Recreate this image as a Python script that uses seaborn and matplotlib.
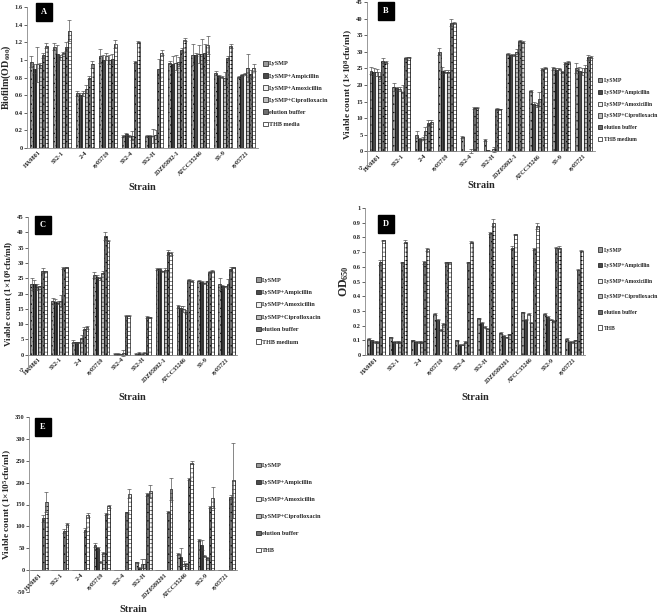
import matplotlib
matplotlib.use("Agg")
import matplotlib.pyplot as plt
from matplotlib.container import BarContainer
import seaborn as sns
import pandas as pd
import numpy as np
from matplotlib.ticker import FuncFormatter

sns.set_theme(style="white")
plt.rcParams['font.family'] = ['Liberation Serif', 'DejaVu Serif']
plt.rcParams['font.weight'] = 'bold'
plt.rcParams['hatch.linewidth'] = 0.35
plt.rcParams['mathtext.fontset'] = 'custom'
plt.rcParams['mathtext.rm'] = 'Liberation Serif:bold'
plt.rcParams['mathtext.it'] = 'Liberation Serif:bold'
plt.rcParams['mathtext.bf'] = 'Liberation Serif:bold'

# ---------------- data ----------------
strains_A = ["HA9801", "SS2-1", "2-4", "zy05719", "SS2-4", "SS2-H", "JDZ05802-1", "ATCC35246", "SS-9", "zy05721"]
strains_D = ["HA9801", "SS2-1", "2-4", "zy05719", "SS2-4", "SS2-H", "JDZ0580201", "ATCC35246", "SS2-9", "zy05721"]
treat_A = ["LySMP", "LySMP+Ampicillin", "LySMP+Amoxicillin", "LySMP+Ciprofloxacin", "elution buffer", "THB media"]
treat_B = ["LySMP", "LySMP+Ampicillin", "LySMP+Amoxicillin", "LySMP+Ciprofloxacin", "elution buffer", "THB medium"]
treat_D = ["LySMP", "LySMP+Ampicillin", "LySMP+Amoxicillin", "LySMP+Ciprofloxacin", "elution buffer", "THB"]

# rows = treatments, columns = strains
A_vals = [
    [0.98, 1.15, 0.62, 1.04, 0.14, 0.14, 0.97, 1.06, 0.85, 0.81],
    [0.90, 1.07, 0.60, 1.00, 0.16, 0.14, 0.95, 1.06, 0.82, 0.83],
    [0.95, 1.03, 0.62, 1.04, 0.14, 0.14, 0.97, 1.07, 0.81, 0.84],
    [0.94, 1.08, 0.67, 1.00, 0.14, 0.15, 0.98, 1.07, 0.79, 0.91],
    [1.05, 1.15, 0.80, 1.01, 0.98, 0.90, 1.11, 1.08, 1.02, 0.84],
    [1.16, 1.33, 0.95, 1.18, 1.20, 1.08, 1.23, 1.17, 1.16, 0.91],
]
A_err = [
    [0.06, 0.04, 0.03, 0.08, 0.01, 0.01, 0.02, 0.12, 0.02, 0.01],
    [0.05, 0.10, 0.02, 0.05, 0.01, 0.01, 0.09, 0.02, 0.01, 0.01],
    [0.20, 0.03, 0.03, 0.04, 0.01, 0.08, 0.08, 0.10, 0.01, 0.01],
    [0.03, 0.01, 0.05, 0.05, 0.05, 0.05, 0.05, 0.17, 0.07, 0.16],
    [0.03, 0.05, 0.02, 0.06, 0.01, 0.11, 0.03, 0.10, 0.02, 0.05],
    [0.03, 0.12, 0.04, 0.05, 0.01, 0.03, 0.02, 0.10, 0.02, 0.04],
]
B_vals = [
    [24.3, 19.3, 5.0, 30.0, 4.2, 3.4, 29.2, 18.3, 25.0, 25.2],
    [23.8, 19.0, 3.6, 24.3, 0.1, 0.3, 29.0, 14.3, 24.5, 24.3],
    [23.8, 18.8, 3.8, 24.0, 0.1, 0.1, 29.0, 14.0, 24.8, 24.0],
    [22.8, 18.0, 6.0, 24.0, 0.2, 0.6, 30.0, 15.8, 24.0, 25.0],
    [27.3, 28.0, 8.6, 38.8, 13.0, 12.8, 33.3, 24.8, 26.5, 28.3],
    [27.0, 28.3, 9.0, 38.6, 13.2, 12.8, 33.0, 25.0, 27.0, 28.3],
]
B_err = [
    [1.0, 1.2, 1.0, 1.0, 0.3, 0.3, 0.3, 0.3, 0.5, 1.5],
    [1.2, 0.5, 0.5, 1.0, 0.1, 0.1, 0.3, 0.5, 0.5, 1.0],
    [1.0, 0.5, 0.5, 0.5, 0.1, 0.1, 0.3, 0.5, 0.3, 1.0],
    [1.0, 2.0, 1.2, 0.5, 0.6, 0.8, 0.8, 2.0, 0.3, 1.0],
    [0.7, 0.3, 0.8, 1.0, 0.3, 0.2, 0.3, 0.3, 0.3, 0.7],
    [0.3, 0.2, 0.6, 0.3, 0.2, 0.1, 0.3, 0.3, 0.3, 0.3],
]
C_vals = [
    [23.0, 17.5, 4.2, 26.0, 0.3, 0.3, 28.0, 15.8, 24.2, 23.0],
    [23.0, 17.3, 4.0, 25.5, 0.3, 0.5, 28.0, 15.3, 23.8, 22.3],
    [22.0, 17.0, 4.0, 25.0, 0.2, 0.3, 27.2, 15.0, 23.3, 22.3],
    [22.3, 17.5, 5.3, 26.8, 0.5, 0.5, 27.8, 14.0, 24.0, 23.2],
    [27.5, 28.2, 8.5, 38.7, 12.8, 12.3, 33.5, 24.5, 27.0, 28.0],
    [27.2, 28.5, 9.0, 37.3, 12.8, 12.2, 33.2, 24.2, 27.3, 28.5],
]
C_err = [
    [2.0, 1.0, 0.5, 1.0, 0.1, 0.1, 0.2, 0.5, 0.2, 2.0],
    [1.3, 1.0, 0.3, 0.5, 0.1, 0.5, 0.2, 0.5, 0.2, 0.5],
    [1.0, 0.5, 0.3, 0.5, 0.1, 0.3, 0.3, 1.0, 0.2, 0.3],
    [0.3, 2.0, 1.2, 0.5, 1.0, 0.5, 0.5, 0.5, 0.2, 1.5],
    [0.7, 0.3, 0.5, 1.3, 0.3, 0.2, 0.8, 0.3, 0.3, 0.7],
    [0.3, 0.2, 0.5, 0.3, 0.3, 0.2, 0.5, 0.3, 0.3, 0.3],
]
D_vals = [
    [0.11, 0.12, 0.10, 0.28, 0.10, 0.25, 0.15, 0.29, 0.28, 0.11],
    [0.10, 0.09, 0.09, 0.24, 0.07, 0.22, 0.13, 0.24, 0.26, 0.09],
    [0.09, 0.09, 0.09, 0.17, 0.07, 0.19, 0.12, 0.28, 0.24, 0.09],
    [0.09, 0.09, 0.09, 0.21, 0.09, 0.18, 0.14, 0.22, 0.23, 0.10],
    [0.63, 0.63, 0.63, 0.63, 0.63, 0.83, 0.73, 0.72, 0.73, 0.58],
    [0.78, 0.77, 0.72, 0.63, 0.77, 0.90, 0.82, 0.88, 0.73, 0.71],
]
D_err = [
    [0.005, 0.005, 0.005, 0.005, 0.005, 0.005, 0.005, 0.005, 0.005, 0.005],
    [0.005, 0.005, 0.005, 0.005, 0.005, 0.005, 0.005, 0.005, 0.005, 0.005],
    [0.005, 0.005, 0.005, 0.005, 0.005, 0.005, 0.005, 0.005, 0.005, 0.005],
    [0.005, 0.005, 0.005, 0.005, 0.005, 0.005, 0.005, 0.005, 0.005, 0.005],
    [0.015, 0.005, 0.010, 0.005, 0.005, 0.005, 0.010, 0.005, 0.005, 0.005],
    [0.005, 0.010, 0.010, 0.005, 0.005, 0.025, 0.005, 0.020, 0.010, 0.005],
]
E_vals = [
    [0.5, 0.5, 0.5, 58, 0.5, 18, 0.5, 37, 69, 0.5],
    [0.5, 0.5, 0.5, 50, 0.5, 6, 0.5, 30, 58, 0.5],
    [0.5, 0.5, 0.5, 18, 0.5, 15, 0.5, 15, 33, 0.5],
    [0.5, 0.5, 0.5, 40, 0.5, 15, 0.5, 13, 27, 0.5],
    [119, 89, 92, 128, 132, 173, 133, 208, 144, 167],
    [155, 105, 126, 146, 175, 180, 186, 246, 165, 205],
]
E_err = [
    [0, 0, 0, 5, 0, 1, 0, 2, 3, 0],
    [0, 0, 0, 4, 0, 2, 0, 20, 12, 0],
    [0, 0, 0, 2, 0, 10, 0, 5, 2, 0],
    [0, 0, 0, 2, 0, 10, 0, 3, 2, 0],
    [8, 5, 4, 2, 1, 4, 2, 3, 3, 5],
    [23, 2, 4, 4, 11, 15, 25, 4, 24, 85],
]

# ---------------- style ----------------
face_colors = ["#9a9a9a", "#4a4a4a", "#f2f2f2", "#bdbdbd", "#6e6e6e", "#ffffff"]
hatches = ["....", "||||", "", "----", "....", "++++"]

W, H = 664, 616
fig = plt.figure(figsize=(W / 100, H / 100), dpi=100)


def px_axes(left, right, top, bottom):
    return fig.add_axes([left / W, 1 - bottom / H, (right - left) / W, (bottom - top) / H])


def panel(ax, strains, treats, vals, errs, ylim, ystep, ylabel, ylab_size, letter, letter_xy,
          leg_x, leg_y, leg_spacing, leg_size, xlab_y):
    rows = []
    for t, vrow in zip(treats, vals):
        for s, v in zip(strains, vrow):
            rows.append({"strain": s, "treatment": t, "value": v})
    df = pd.DataFrame(rows)
    sns.barplot(data=df, x="strain", y="value", hue="treatment", order=strains,
                hue_order=treats, palette=face_colors, errorbar=None, ax=ax,
                width=0.78, edgecolor="black", linewidth=0.45, saturation=1)
    bar_conts = [c for c in ax.containers if isinstance(c, BarContainer)]
    for i, cont in enumerate(bar_conts):
        xs, ys = [], []
        for bar in cont.patches:
            bar.set_hatch(hatches[i])
            xs.append(bar.get_x() + bar.get_width() / 2)
            ys.append(bar.get_height())
        ax.errorbar(xs, ys, yerr=errs[i], fmt="none", ecolor="#444444",
                    elinewidth=0.45, capsize=1.2, capthick=0.45)
    ax.set_ylim(*ylim)
    ax.set_yticks(np.arange(ylim[0], ylim[1] + ystep / 2, ystep))
    ax.yaxis.set_major_formatter(FuncFormatter(lambda v, p: "%g" % round(v, 3)))
    ax.set_xlim(-0.5, len(strains) - 0.5)
    for sp in ["top", "right"]:
        ax.spines[sp].set_visible(False)
    ax.spines["left"].set_color("#888888")
    ax.spines["left"].set_linewidth(0.6)
    ax.spines["bottom"].set_position(("data", 0))
    ax.spines["bottom"].set_color("#888888")
    ax.spines["bottom"].set_linewidth(0.6)
    ax.tick_params(axis="y", length=2, width=0.5, labelsize=4.6, pad=1, left=True)
    ax.tick_params(axis="x", length=0, labelsize=4.5, pad=1.5)
    plt.setp(ax.get_xticklabels(), rotation=45, ha="right", rotation_mode="anchor",
             fontweight="bold")
    plt.setp(ax.get_yticklabels(), fontweight="bold")
    ax.set_xlabel("")
    ax.set_ylabel(ylabel, fontsize=ylab_size, fontweight="bold", labelpad=1)
    # Strain label
    bb = ax.get_position()
    fig.text((bb.x0 + bb.x1) / 2, 1 - xlab_y / H, "Strain", ha="center", va="center",
             fontsize=7.5, fontweight="bold")
    # letter box
    fig.text(letter_xy[0] / W, 1 - letter_xy[1] / H, letter, ha="center", va="center",
             color="white", fontsize=6.0, fontweight="bold",
             bbox=dict(boxstyle="square,pad=0.6", fc="black", ec="black"))
    handles, labels = ax.get_legend_handles_labels()
    ax.legend(handles, labels, loc="center left",
              bbox_to_anchor=(leg_x / W, 1 - leg_y / H), bbox_transform=fig.transFigure,
              frameon=False, fontsize=leg_size, handlelength=0.75, handleheight=0.75,
              handletextpad=0.25, labelspacing=leg_spacing, borderaxespad=0,
              borderpad=0)


axA = px_axes(27, 258, 7, 148)
panel(axA, strains_A, treat_A, A_vals, A_err, (0, 1.6), 0.2, "Biofilm(OD$_{600}$)", 7.2, "A",
      (44, 12), 263, 94, 1.1, 4.4, 188)

axB = px_axes(367, 595, 2, 168)
panel(axB, strains_A, treat_B, B_vals, B_err, (-5, 45), 5,
      "Viable count (1\u00d710$^{8}$cfu/ml)", 6.8, "B", (386, 11), 598, 110, 1.2, 4.1, 185)

axC = px_axes(28, 237, 217, 370)
panel(axC, strains_A, treat_B, C_vals, C_err, (-5, 45), 5,
      "Viable count (1\u00d710$^{8}$cfu/ml)", 6.6, "C", (43, 225), 256, 311, 1.15, 4.4, 397)

axD = px_axes(365, 585, 208, 355)
panel(axD, strains_D, treat_D, D_vals, D_err, (0, 1.0), 0.1, "OD$_{650}$", 8.5, "D",
      (386, 224), 598, 289, 1.85, 4.1, 398)

axE = px_axes(29, 237, 417, 592)
panel(axE, strains_D, treat_D, E_vals, E_err, (-50, 350), 50,
      "Viable count (1\u00d710$^{5}$cfu/ml)", 6.8, "E", (43, 427), 256, 508, 1.9, 4.4, 609)

fig.savefig("out.png", dpi=100, facecolor="white")
